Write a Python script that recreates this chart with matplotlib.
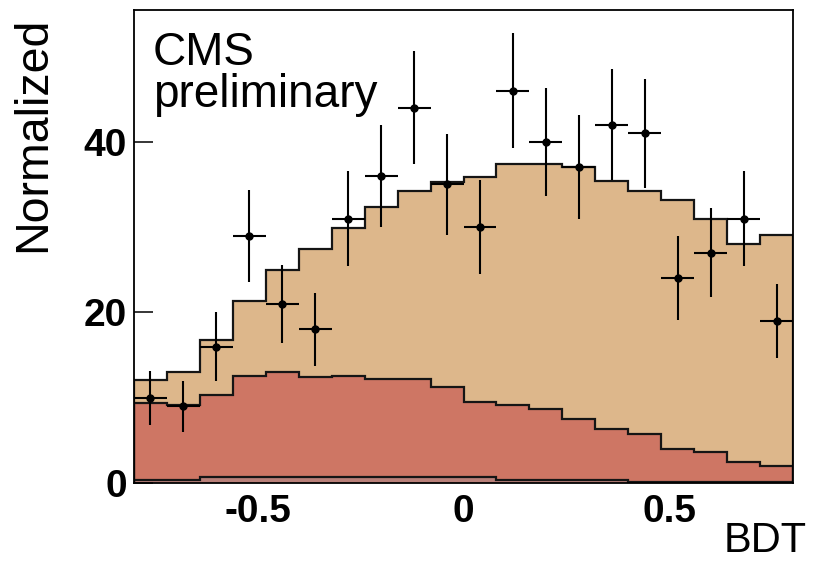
import numpy as np
import matplotlib
matplotlib.use("Agg")
import matplotlib.pyplot as plt

plt.rcParams["font.family"] = ["Liberation Sans", "DejaVu Sans"]
plt.rcParams["axes.unicode_minus"] = False

# 20 bins of BDT output between -0.8 and 0.8
bin_edges = np.linspace(-0.8, 0.8, 21)

# observed counts per bin
data_counts = [10, 9, 16, 29, 21, 18, 31, 36, 44, 35,
               30, 46, 40, 37, 42, 41, 24, 27, 31, 19]

# background components (stacked bottom to top)
bkg_small = [0.38, 0.38, 0.68, 0.68, 0.68, 0.68, 0.68, 0.68, 0.68, 0.68,
             0.68, 0.38, 0.38, 0.38, 0.38, 0.12, 0.12, 0.12, 0.12, 0.12]
bkg_red = [8.98, 8.76, 9.58, 11.92, 12.31, 11.72, 11.92, 11.54, 11.54, 10.55,
           8.87, 8.79, 8.32, 7.15, 5.97, 5.57, 3.89, 3.49, 2.32, 1.85]
bkg_tan = [2.77, 3.93, 6.53, 8.71, 12.00, 15.03, 17.27, 20.11, 21.99, 24.08,
           26.30, 28.25, 28.72, 29.49, 29.00, 28.52, 29.11, 27.36, 25.60, 27.16]

colors = {"small": "#b98079", "red": "#ce7664", "tan": "#ddb78b"}

fig = plt.figure(figsize=(8.13, 5.62), dpi=100)
W, H = 813, 562
ax = fig.add_axes([134 / W, 1 - 483 / H, (793 - 134) / W, (483 - 10) / H])

low = np.array(bkg_small)
mid = low + np.array(bkg_red)
top = mid + np.array(bkg_tan)

for level, key in ((top, "tan"), (mid, "red"), (low, "small")):
    ax.stairs(level, bin_edges, baseline=0, fill=True, color=colors[key], zorder=1)
    ax.stairs(level, bin_edges, baseline=0, color="#151515", lw=1.6, zorder=2)

centers = 0.5 * (bin_edges[:-1] + bin_edges[1:])
half_w = 0.5 * np.diff(bin_edges)
counts = np.array(data_counts, dtype=float)
ax.errorbar(centers, counts, xerr=half_w, yerr=np.sqrt(counts), fmt="o",
            color="black", ms=5, elinewidth=1.5, capsize=0, zorder=3)

ax.set_xlim(-0.8, 0.8)
ax.set_ylim(0, 55.45)
ax.set_xticks([-0.5, 0, 0.5], ["-0.5", "0", "0.5"])
ax.set_yticks([0, 20, 40], ["0", "20", "40"])
ax.tick_params(axis="x", length=0, pad=8, labelsize=28)
ax.tick_params(axis="y", direction="in", length=14, width=1.1, pad=5, labelsize=28)
for lab in ax.get_xticklabels() + ax.get_yticklabels():
    lab.set_fontweight("bold")
for sp in ax.spines.values():
    sp.set_linewidth(1.3)
    sp.set_zorder(4)

fig.text(153 / W, 1 - 65 / H, "CMS", fontsize=33, ha="left", va="baseline")
fig.text(153 / W, 1 - 107 / H, "preliminary", fontsize=33, ha="left", va="baseline")

fig.text(807 / W, 1 - 552 / H, "BDT", fontsize=30, ha="right", va="baseline")
fig.text(11 / W, 1 - 17 / H, "Normalized", fontsize=33.5, rotation=90,
         ha="left", va="top")

fig.savefig("out.png", dpi=100)
